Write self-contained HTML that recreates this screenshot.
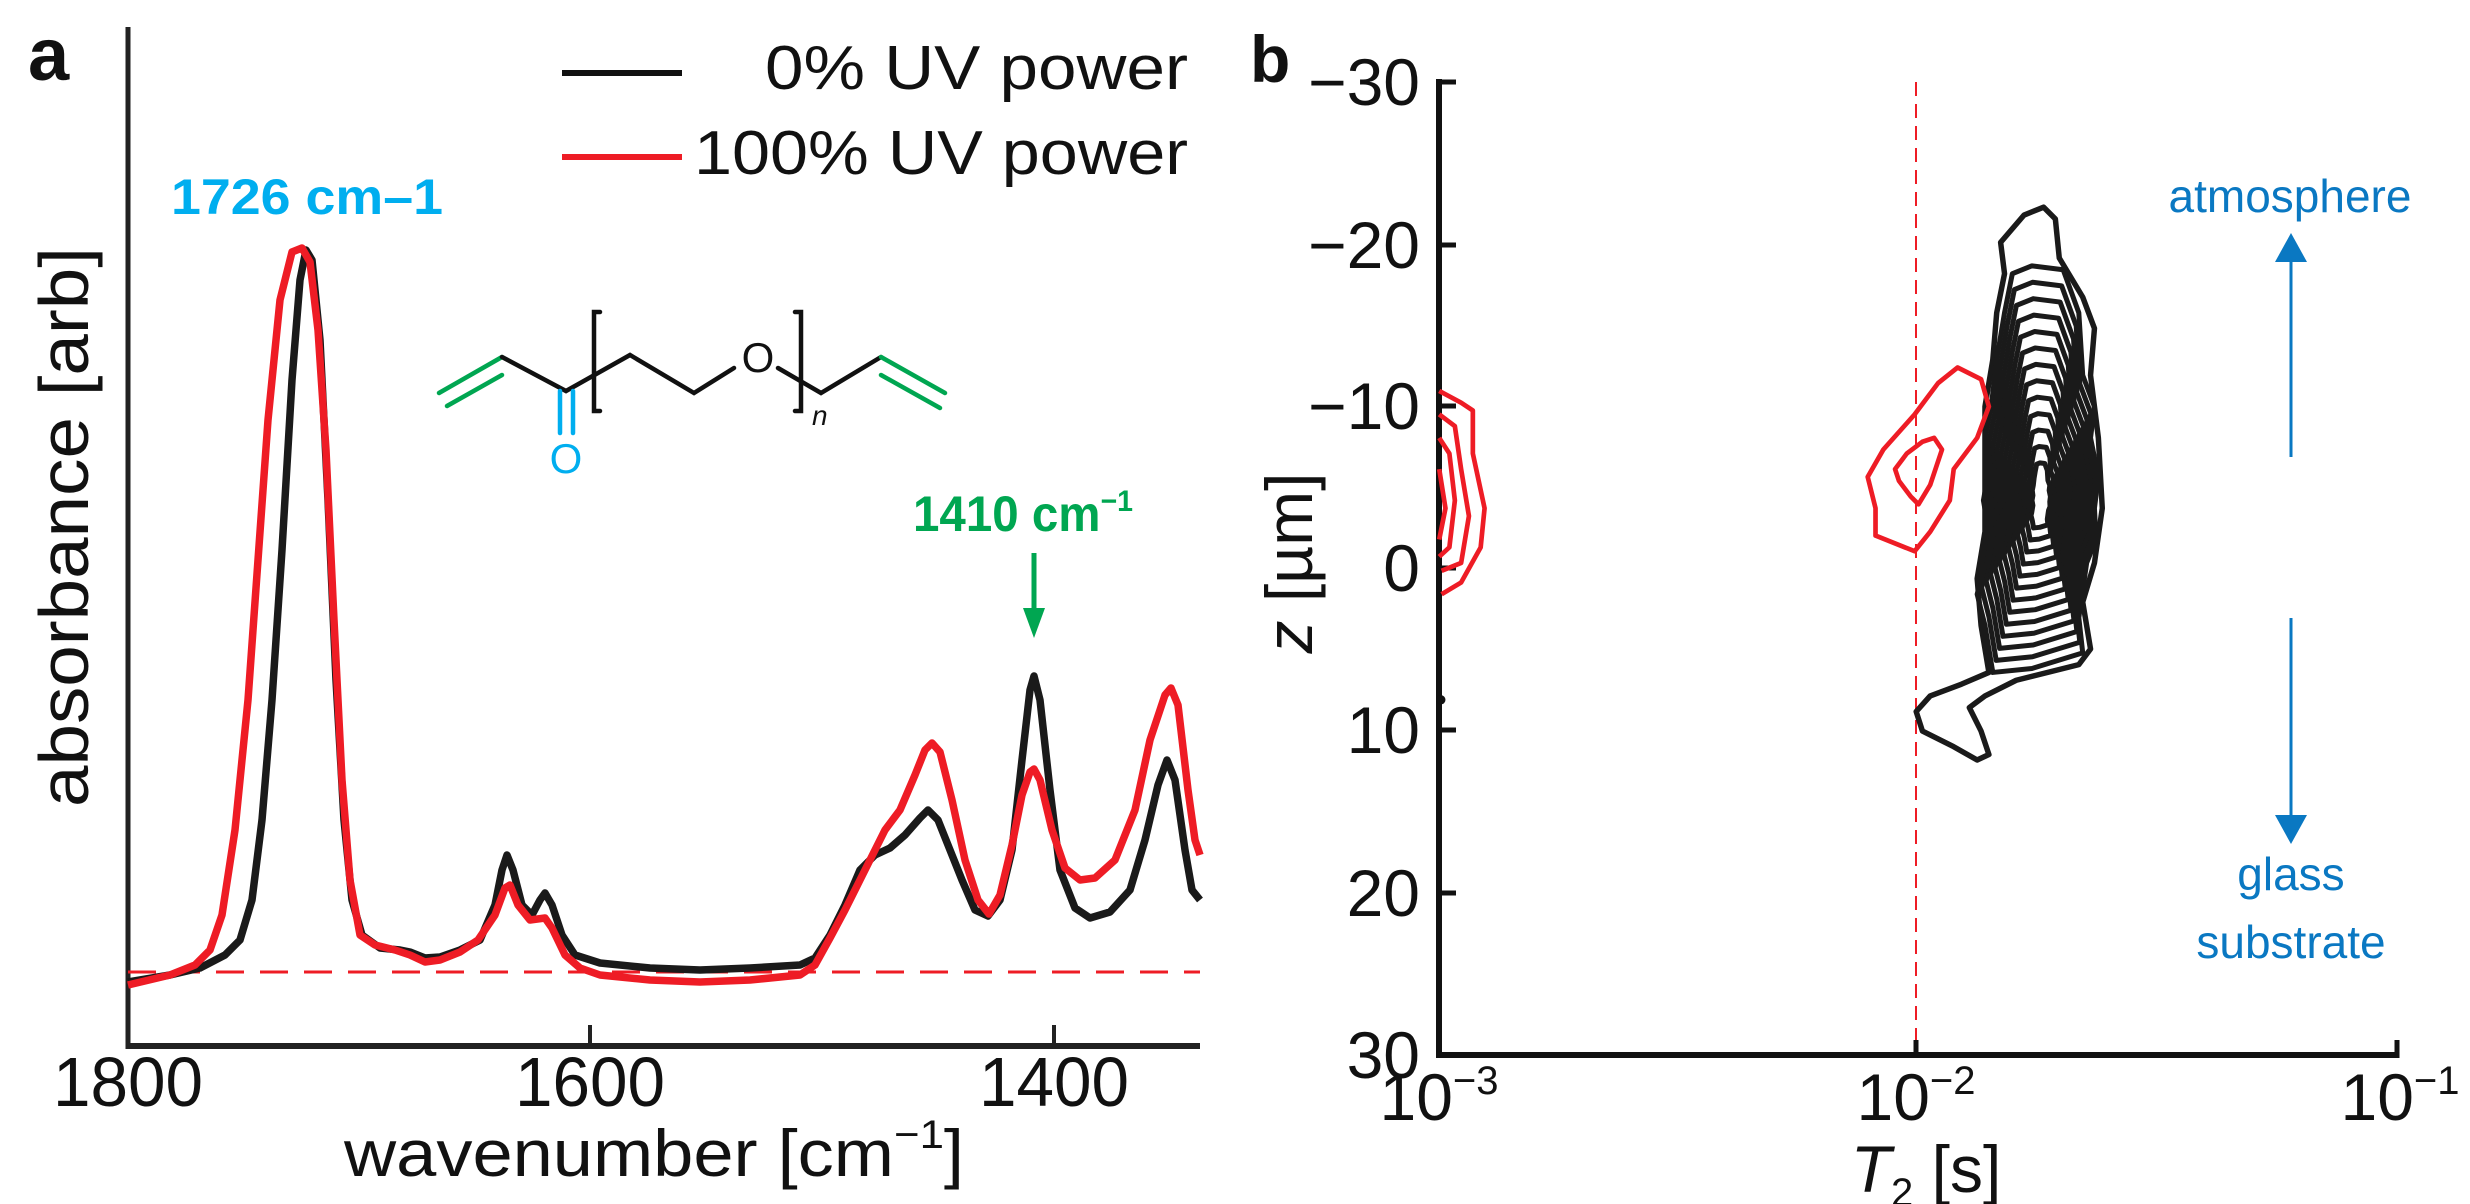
<!DOCTYPE html>
<html><head><meta charset="utf-8"><style>
html,body{margin:0;padding:0;background:#fff;}
svg{display:block;}
text{font-family:"Liberation Sans",sans-serif;}
</style></head><body>
<svg width="2470" height="1204" viewBox="0 0 2470 1204" xmlns="http://www.w3.org/2000/svg">
<!-- Panel a -->
<text x="28" y="80" font-size="74" font-weight="bold" fill="#111">a</text>
<line x1="128" y1="27" x2="128" y2="1049" stroke="#222" stroke-width="5"/>
<line x1="126" y1="1046" x2="1200" y2="1046" stroke="#222" stroke-width="6"/>
<line x1="590" y1="1046" x2="590" y2="1025" stroke="#222" stroke-width="4"/>
<line x1="1054" y1="1046" x2="1054" y2="1025" stroke="#222" stroke-width="4"/>
<g font-size="70" fill="#111" text-anchor="middle">
<text x="128" y="1106" textLength="150" lengthAdjust="spacingAndGlyphs">1800</text>
<text x="590" y="1106" textLength="150" lengthAdjust="spacingAndGlyphs">1600</text>
<text x="1054" y="1106" textLength="150" lengthAdjust="spacingAndGlyphs">1400</text>
</g>
<text x="654" y="1176" font-size="66" fill="#111" text-anchor="middle" textLength="620" lengthAdjust="spacingAndGlyphs">wavenumber [cm<tspan font-size="40" dy="-28">−1</tspan><tspan dy="28">]</tspan></text>
<text transform="translate(88,527) rotate(-90)" font-size="70" fill="#111" text-anchor="middle" textLength="560" lengthAdjust="spacingAndGlyphs">absorbance [arb]</text>
<line x1="128" y1="972" x2="1200" y2="972" stroke="#ee1c25" stroke-width="3" stroke-dasharray="28,16"/>
<!-- legend -->
<line x1="562" y1="73" x2="682" y2="73" stroke="#111" stroke-width="6"/>
<line x1="562" y1="157" x2="682" y2="157" stroke="#ee1c25" stroke-width="6"/>
<g font-size="62" fill="#111" text-anchor="end">
<text x="1188" y="89" textLength="423" lengthAdjust="spacingAndGlyphs">0% UV power</text>
<text x="1188" y="174" textLength="494" lengthAdjust="spacingAndGlyphs">100% UV power</text>
</g>
<text x="171" y="214" font-size="50" font-weight="bold" fill="#00aeef" textLength="272" lengthAdjust="spacingAndGlyphs">1726 cm–1</text>
<text x="913" y="531" font-size="50" font-weight="bold" fill="#00a651" textLength="220" lengthAdjust="spacingAndGlyphs">1410 cm<tspan font-size="30" dy="-20">−1</tspan></text>
<line x1="1034" y1="553" x2="1034" y2="615" stroke="#00a651" stroke-width="5"/>
<polygon points="1023,608 1045,608 1034,638" fill="#00a651"/>
<!-- molecule -->
<g fill="none" stroke-width="4.5" stroke-linecap="round">
<line x1="439" y1="393" x2="502" y2="357" stroke="#00a651"/>
<line x1="447" y1="406" x2="502" y2="375" stroke="#00a651"/>
<polyline points="502,357 566,391 630,355 694,393 734,368" stroke="#111"/>
<polyline points="778,368 821,393 881,357" stroke="#111"/>
<line x1="881" y1="357" x2="945" y2="393" stroke="#00a651"/>
<line x1="881" y1="375" x2="940" y2="408" stroke="#00a651"/>
<line x1="560" y1="391" x2="560" y2="433" stroke="#00aeef"/>
<line x1="573" y1="391" x2="573" y2="433" stroke="#00aeef"/>
<polyline points="600,312 594,312 594,411 600,411" stroke="#111"/>
<polyline points="795,312 801,312 801,411 795,411" stroke="#111"/>
</g>
<text x="566" y="473" font-size="42" fill="#00aeef" text-anchor="middle">O</text>
<text x="758" y="372" font-size="42" fill="#111" text-anchor="middle">O</text>
<text x="812" y="425" font-size="28" font-style="italic" fill="#111">n</text>
<!-- curves -->
<g fill="none" stroke-width="7.5" stroke-linejoin="round">
<polyline stroke="#1a1a1a" points="128,982 170,975 200,968 225,955 240,940 252,900 262,820 272,700 282,550 292,380 300,280 306,250 312,260 320,340 328,500 336,680 344,820 352,900 362,935 380,948 400,950 410,952 425,958 440,957 460,950 480,940 495,905 502,870 507,855 513,870 522,905 532,915 540,900 545,893 552,905 562,935 575,955 600,963 650,968 700,970 750,968 800,965 815,958 830,935 845,905 860,870 875,855 890,848 905,835 920,818 928,810 938,820 950,850 962,880 975,910 988,916 1000,900 1012,850 1022,760 1030,690 1034,676 1040,700 1050,790 1060,870 1075,908 1090,918 1110,912 1130,890 1145,840 1158,785 1167,760 1175,780 1185,850 1192,890 1200,900"/>
<polyline stroke="#ee1c25" points="128,985 170,975 195,965 210,950 222,915 235,830 248,700 258,560 268,420 280,300 292,252 302,248 310,262 318,330 326,450 334,620 342,780 350,880 360,935 375,945 395,950 410,955 425,962 440,960 460,952 478,940 495,915 505,888 510,885 518,905 530,920 545,918 552,928 565,955 580,968 600,975 650,980 700,982 750,980 800,975 815,965 830,938 845,910 860,880 870,860 885,830 900,810 915,775 925,750 932,743 940,752 952,800 965,860 978,900 989,914 1000,895 1012,845 1022,795 1030,772 1034,769 1040,780 1052,830 1065,868 1080,880 1095,878 1115,860 1135,810 1150,740 1165,695 1171,688 1178,705 1188,790 1195,840 1200,855"/>
</g>

<!-- Panel b -->
<text x="1250" y="82" font-size="66" font-weight="bold" fill="#111">b</text>
<line x1="1916" y1="82" x2="1916" y2="1055" stroke="#ee1c25" stroke-width="2" stroke-dasharray="14,8"/>
<line x1="1439" y1="79" x2="1439" y2="1058" stroke="#111" stroke-width="6"/>
<line x1="1436" y1="1055" x2="2399" y2="1055" stroke="#111" stroke-width="6"/>
<g stroke="#111" stroke-width="5">
<line x1="1439" y1="82" x2="1456" y2="82"/>
<line x1="1439" y1="245" x2="1456" y2="245"/>
<line x1="1439" y1="406" x2="1456" y2="406"/>
<line x1="1439" y1="568" x2="1456" y2="568"/>
<line x1="1439" y1="730" x2="1456" y2="730"/>
<line x1="1439" y1="893" x2="1456" y2="893"/>
<line x1="1916" y1="1055" x2="1916" y2="1040"/>
<line x1="2397" y1="1040" x2="2397" y2="1058"/>
</g>
<g font-size="66" fill="#111" text-anchor="end">
<text x="1420" y="105">−30</text>
<text x="1420" y="268">−20</text>
<text x="1420" y="429">−10</text>
<text x="1420" y="591">0</text>
<text x="1420" y="753">10</text>
<text x="1420" y="916">20</text>
<text x="1420" y="1078">30</text>
</g>
<g font-size="66" fill="#111" text-anchor="middle">
<text x="1439" y="1120">10<tspan font-size="40" dy="-26">−3</tspan></text>
<text x="1916" y="1120">10<tspan font-size="40" dy="-26">−2</tspan></text>
<text x="2400" y="1120">10<tspan font-size="40" dy="-26">−1</tspan></text>
<text x="1926" y="1192"><tspan font-style="italic">T</tspan><tspan font-size="40" dy="14">2</tspan><tspan dy="-14"> [s]</tspan></text>
</g>
<text transform="translate(1312,563) rotate(-90)" font-size="66" fill="#111" text-anchor="middle"><tspan font-style="italic">z</tspan> [µm]</text>
<g fill="#0a78c2" font-size="46" text-anchor="middle">
<text x="2290" y="212">atmosphere</text>
<text x="2291" y="890">glass</text>
<text x="2291" y="958">substrate</text>
</g>
<line x1="2291" y1="260" x2="2291" y2="457" stroke="#0a78c2" stroke-width="3"/>
<polygon points="2291,233 2275,262 2307,262" fill="#0a78c2"/>
<line x1="2291" y1="618" x2="2291" y2="820" stroke="#0a78c2" stroke-width="3"/>
<polygon points="2291,844 2275,815 2307,815" fill="#0a78c2"/>
<!-- contours in zoom coordinates -->
<g transform="translate(1250,0) scale(0.7819)" fill="none" stroke-linejoin="round">
<g stroke="#1a1a1a" stroke-width="7">
<path d="M1015,265 L1030,280 L1035,330 L1065,380 L1080,420 L1075,480 L1085,560 L1090,650 L1080,720 L1065,770 L1075,830 L1060,850 L980,870 L940,890 L920,905 L935,935 L945,965 L930,972 L900,955 L860,935 L852,910 L870,890 L910,875 L945,860 L935,800 L930,740 L940,680 L940,600 L940,520 L950,460 L955,400 L965,350 L960,310 L990,275 Z"/>
<path id="cp" vector-effect="non-scaling-stroke" stroke-width="5" d="M1000,340 L1040,345 L1060,400 L1065,480 L1080,520 L1075,560 L1085,610 L1080,650 L1082,690 L1070,720 L1060,790 L1065,835 L1000,855 L950,860 L940,800 L930,760 L935,740 L945,680 L938,640 L945,600 L940,560 L948,520 L955,460 L965,400 L975,350 Z"/>
<g stroke-width="5">
<use href="#cp" transform="translate(1012,640) scale(0.93) translate(-1012,-640)"/>
<use href="#cp" transform="translate(1012,640) scale(0.86) translate(-1012,-640)"/>
<use href="#cp" transform="translate(1012,640) scale(0.79) translate(-1012,-640)"/>
<use href="#cp" transform="translate(1012,640) scale(0.72) translate(-1012,-640)"/>
<use href="#cp" transform="translate(1012,640) scale(0.65) translate(-1012,-640)"/>
<use href="#cp" transform="translate(1012,640) scale(0.58) translate(-1012,-640)"/>
<use href="#cp" transform="translate(1012,640) scale(0.51) translate(-1012,-640)"/>
<use href="#cp" transform="translate(1012,640) scale(0.44) translate(-1012,-640)"/>
<use href="#cp" transform="translate(1012,640) scale(0.37) translate(-1012,-640)"/>
<use href="#cp" transform="translate(1012,640) scale(0.30) translate(-1012,-640)"/>
<use href="#cp" transform="translate(1012,640) scale(0.23) translate(-1012,-640)"/>
<use href="#cp" transform="translate(1012,640) scale(0.16) translate(-1012,-640)"/>
</g>
</g>
<circle cx="244" cy="895" r="6" fill="#111"/>
<g stroke="#ee1c25" stroke-width="6">
<path d="M905,470 L935,485 L945,520 L930,560 L900,600 L895,640 L870,680 L850,705 L800,685 L800,650 L790,610 L810,575 L850,530 L880,490 Z"/>
<path d="M875,560 L885,575 L870,620 L855,645 L845,635 L830,615 L825,600 L840,580 L860,565 Z"/>
<path d="M242,500 L270,515 L285,525 L285,580 L300,650 L295,700 L270,745 L245,760"/>
<path d="M242,530 L262,545 L270,600 L280,660 L270,720 L245,730"/>
<path d="M242,560 L255,580 L262,640 L255,700 L242,712"/>
<path d="M242,600 L250,650 L242,690"/>
</g>
</g>
</svg>
</body></html>
